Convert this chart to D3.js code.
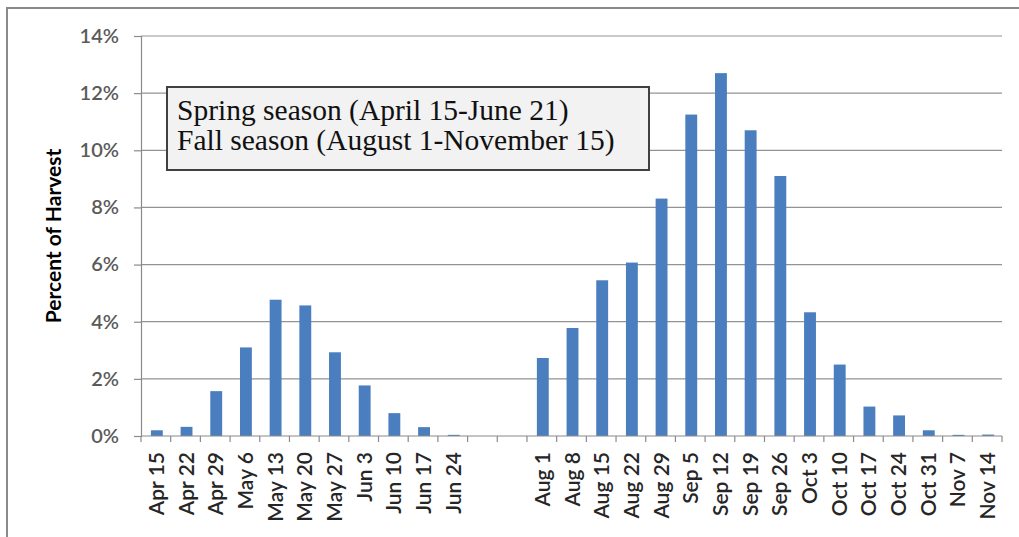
<!DOCTYPE html>
<html>
<head>
<meta charset="utf-8">
<script src="https://cdn.jsdelivr.net/npm/d3@7"></script>
<style>
  html, body { margin: 0; padding: 0; background: #ffffff; }
  svg { display: block; }
</style>
</head>
<body>
<svg id="chart" width="1019" height="537"></svg>
<script>
// ---- Data ----
const categories = ["Apr 15","Apr 22","Apr 29","May 6","May 13","May 20","May 27","Jun 3","Jun 10","Jun 17","Jun 24",
  "","",
  "Aug 1","Aug 8","Aug 15","Aug 22","Aug 29","Sep 5","Sep 12","Sep 19","Sep 26","Oct 3","Oct 10","Oct 17","Oct 24","Oct 31","Nov 7","Nov 14"];
const harvestPct = [0.20,0.32,1.57,3.10,4.77,4.57,2.93,1.77,0.80,0.31,0.04,
  null,null,
  2.73,3.78,5.45,6.07,8.31,11.25,12.70,10.70,9.10,4.33,2.50,1.03,0.72,0.20,0.04,0.05];
const yTicks = [0,2,4,6,8,10,12,14];
const yTitle = "Percent of Harvest";
const noteLines = ["Spring season (April 15-June 21)", "Fall season (August 1-November 15)"];

// ---- Layout ----
const svg = d3.select("#chart");
const W = 1019, H = 537;
const plot = {left: 141, right: 1002, top: 36, bottom: 436};

// outer frame (only left and top edges visible in the picture)
svg.append("path")
  .attr("d", `M7,${H} L7,8 L${W},8`)
  .attr("fill", "none").attr("stroke", "#8a8a8a").attr("stroke-width", 2);

const x = d3.scaleBand()
  .domain(d3.range(categories.length))
  .range([plot.left, plot.right])
  .paddingInner(0.6)
  .paddingOuter(0.3);

const y = d3.scaleLinear().domain([0, 14]).range([plot.bottom, plot.top]);

// gridlines
svg.append("g").selectAll("line").data(yTicks.filter(d => d > 0)).join("line")
  .attr("x1", plot.left).attr("x2", plot.right)
  .attr("y1", d => y(d)).attr("y2", d => y(d))
  .attr("stroke", "#939393").attr("stroke-width", 1.2);

// y axis
const yAxis = svg.append("g")
  .attr("transform", `translate(${plot.left},0)`)
  .call(d3.axisLeft(y).tickValues(yTicks).tickFormat(d => d + "%").tickSize(7).tickPadding(15));
yAxis.select(".domain").attr("stroke", "#8a8a8a").attr("stroke-width", 1.2);
yAxis.selectAll(".tick line").attr("stroke", "#8a8a8a").attr("stroke-width", 1.2);
yAxis.selectAll(".tick text")
  .attr("font-family", "Lato, 'Open Sans', sans-serif")
  .attr("font-size", 20).attr("font-weight", 600).attr("fill", "#5a5a5a");

// bars
svg.append("g").selectAll("rect")
  .data(harvestPct.map((v, i) => ({i, v})).filter(d => d.v != null))
  .join("rect")
  .attr("x", d => x(d.i) + 1)
  .attr("width", x.bandwidth())
  .attr("y", d => y(d.v))
  .attr("height", d => y(0) - y(d.v))
  .attr("fill", "#4a7ebe");

// x axis baseline
svg.append("line")
  .attr("x1", plot.left).attr("x2", plot.right)
  .attr("y1", y(0)).attr("y2", y(0))
  .attr("stroke", "#8a8a8a").attr("stroke-width", 1.2);

// category boundary ticks
const step = x.step();
const bounds = d3.range(categories.length + 1).map(i => plot.left + i * step);
svg.append("g").selectAll("line").data(bounds).join("line")
  .attr("x1", d => d).attr("x2", d => d)
  .attr("y1", y(0)).attr("y2", y(0) + 6)
  .attr("stroke", "#8a8a8a").attr("stroke-width", 1.2);

// category labels (rotated)
svg.append("g").selectAll("text").data(categories.map((c, i) => ({c, i}))).join("text")
  .attr("transform", d => `translate(${x(d.i) + x.bandwidth() / 2 + 8},${y(0) + 16}) rotate(-90)`)
  .attr("text-anchor", "end")
  .attr("font-family", "Lato, 'Open Sans', sans-serif")
  .attr("font-size", 21).attr("font-weight", 600).attr("fill", "#262626")
  .text(d => d.c);

// y title
svg.append("text")
  .attr("transform", `translate(61,${(plot.top + plot.bottom) / 2}) rotate(-90)`)
  .attr("text-anchor", "middle")
  .attr("font-family", "Lato, 'Open Sans', sans-serif")
  .attr("font-size", 21).attr("font-weight", 700).attr("fill", "#000")
  .text(yTitle);

// annotation box
const note = svg.append("g");
note.append("rect")
  .attr("x", 167).attr("y", 87).attr("width", 482).attr("height", 83)
  .attr("fill", "#f2f2f2").attr("stroke", "#404040").attr("stroke-width", 2);
note.selectAll("text").data(noteLines).join("text")
  .attr("x", 177)
  .attr("y", (d, i) => 120 + i * 30)
  .attr("font-family", "'Liberation Serif', serif")
  .attr("font-size", 29.5).attr("fill", "#111")
  .text(d => d);
</script>
</body>
</html>
